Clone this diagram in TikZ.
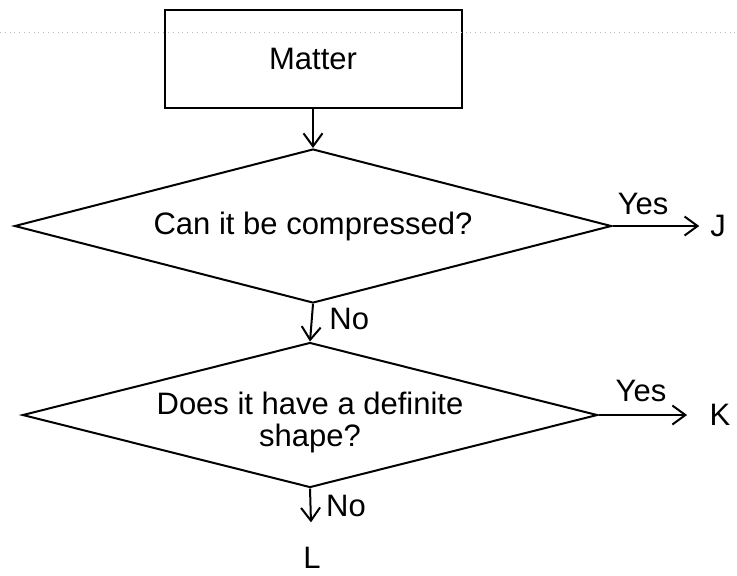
\documentclass[tikz,border=0pt]{standalone}
\usepackage{fontspec}
\setmainfont{Liberation Sans}
\usetikzlibrary{arrows.meta, positioning, calc, shapes.geometric}

\begin{document}
\begin{tikzpicture}[
    x=0.5pt, y=-0.5pt,
    >={Straight Barb[length=6.5pt, width=9.5pt]},
    line width=1pt,
    font=\fontsize{15.5pt}{16pt}\selectfont,
    block/.style={draw, rectangle, minimum height=49pt, minimum width=148.5pt, align=center},
    decision/.style={draw, diamond, inner sep=0pt, align=center, shape aspect=4},
    outcome/.style={inner sep=2pt}
  ]
  \useasboundingbox (0,0) rectangle (737,575);

  % --- bloques ---
  \node[block] (matter) at (313,59) {Matter};
  \node[decision, minimum width=298.5pt, minimum height=77pt] (q1) at (313,226) {Can it be compressed?};
  \node[decision, minimum width=287.5pt, minimum height=72.5pt] (q2) at (310,415)
    {\raisebox{-4.5pt}[\height][\depth]{\begin{tabular}{@{}c@{}}Does it have a definite\\ shape?\end{tabular}}};

  % --- salidas ---
  \node[outcome] (J) at (718,226) {J};
  \node[outcome] (K) at (720,415) {K};
  \node[outcome] (L) at (312,558) {L};

  % --- linea de escaneo ---
  \draw[gray!55, dotted, line width=0.4pt] (0,32) -- (737,32);

  % --- conexiones ---
  \draw[->] (matter.south) -- (q1.north);
  \draw[->] (q1.south) -- node[right, pos=0.4, xshift=5pt]{No} (q2.north);
  \draw[->, shorten >=3pt] (q1.east) -- node[above, pos=0.33, yshift=2pt]{Yes} (J);
  \draw[->, shorten >=8.8pt] (q2.east) -- node[above, pos=0.4, yshift=3pt]{Yes} (K);
  \draw[->, shorten >=10pt] (q2.south) -- node[right, pos=0.32, xshift=4pt]{No} (L);
\end{tikzpicture}
\end{document}
